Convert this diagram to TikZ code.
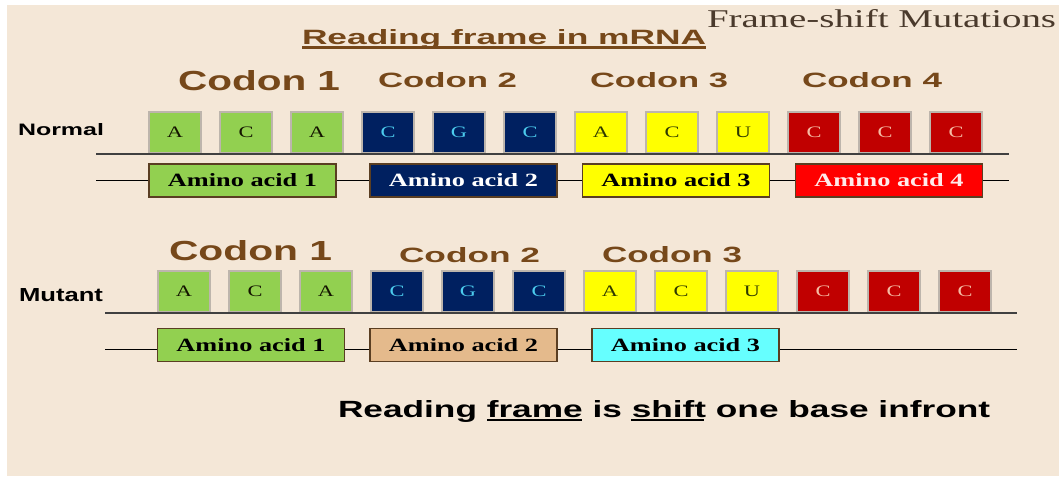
\documentclass[tikz,border=0pt]{standalone}
\usepackage{fontspec}
\setmainfont{Liberation Serif}
\newfontfamily\arialf{Liberation Sans}
\usepackage{graphicx}
\definecolor{bg}{HTML}{F4E7D7}
\definecolor{brn}{HTML}{76481A}
\definecolor{ttl}{HTML}{4A3A2C}
\definecolor{boxgray}{HTML}{BDB5AC}
\definecolor{aabrown}{HTML}{5A3E22}
\definecolor{f0}{HTML}{92D050}
\definecolor{f1}{HTML}{002060}
\definecolor{f2}{HTML}{FFFF00}
\definecolor{f3}{HTML}{C00000}
\definecolor{t0}{HTML}{141400}
\definecolor{t1}{HTML}{4CCCEE}
\definecolor{t2}{HTML}{2E3800}
\definecolor{t3}{HTML}{F6BCA4}
\definecolor{tan}{HTML}{E4BA8C}
\definecolor{cyn}{HTML}{66FFFF}
\definecolor{rd}{HTML}{FF0000}
\newcommand\fitb[3]{\resizebox{#1pt}{#2pt}{#3}}
\newcommand\bl[1]{\scalebox{1.4}[1]{\fontsize{16}{16}\selectfont #1}}
\newcommand\aat[1]{\fitb{149}{13}{\bfseries #1}}
\begin{document}
\begin{tikzpicture}[x=1pt,y=-1pt,
  txt/.style={inner sep=0pt, outer sep=0pt, anchor=base west},
  basebox/.style={draw=boxgray, line width=1.2pt, minimum width=52pt, minimum height=41pt, inner sep=0pt},
  aabox/.style={draw=aabrown, line width=1.5pt, minimum width=187pt, minimum height=33pt, inner sep=0pt},
  mline/.style={draw=black!75, line width=1.5pt},
  pline/.style={draw=black, line width=1pt},
  uline/.style={line width=2.5pt}]
\useasboundingbox (0,0) rectangle (1059,477);
\fill[bg] (7,5) rectangle (1059,476);

% titles
\node[txt, text=ttl] (fsm) at (707,27) {\fitb{349}{18}{Frame-shift Mutations}};
\node[txt, text=brn] (rfm) at (302,44) {\fitb{404}{15}{\arialf\bfseries Reading frame in mRNA}};
\draw[uline, brn] (rfm.base west) ++(0,3.7) -- ++(404,0);

% row labels
\node[txt] (normal) at (18,135) {\fitb{86}{12}{\arialf\bfseries Normal}};
\node[txt] (mutant) at (19,301) {\fitb{84}{13}{\arialf\bfseries Mutant}};

% codon labels row 1
\node[txt, text=brn] (c11) at (178,90) {\fitb{162}{20}{\arialf\bfseries Codon 1}};
\node[txt, text=brn] (c12) at (378,87) {\fitb{139}{15}{\arialf\bfseries Codon 2}};
\node[txt, text=brn] (c13) at (590,87) {\fitb{138}{15}{\arialf\bfseries Codon 3}};
\node[txt, text=brn] (c14) at (802,87) {\fitb{140}{15}{\arialf\bfseries Codon 4}};
% codon labels row 2
\node[txt, text=brn] (c21) at (169,260) {\fitb{163}{20}{\arialf\bfseries Codon 1}};
\node[txt, text=brn] (c22) at (399,262) {\fitb{141}{15}{\arialf\bfseries Codon 2}};
\node[txt, text=brn] (c23) at (602,262) {\fitb{140}{16}{\arialf\bfseries Codon 3}};

% bases row 1
\foreach \l [count=\i from 0] in {A,C,A,C,G,C,A,C,U,C,C,C} {
  \pgfmathtruncatemacro\g{int(\i/3)}
  \node[basebox, fill=f\g, text=t\g] (n\i) at ({175+71*\i},132.5) {\bl{\l}};
}
% bases row 2
\foreach \l [count=\i from 0] in {A,C,A,C,G,C,A,C,U,C,C,C} {
  \pgfmathtruncatemacro\g{int(\i/3)}
  \node[basebox, fill=f\g, text=t\g] (m\i) at ({184+71*\i},291.5) {\bl{\l}};
}

% mRNA lines
\coordinate (m1s) at (96,154);  \coordinate (m1e) at (1009,154);
\coordinate (m2s) at (105,313); \coordinate (m2e) at (1017,313);
\draw[mline] (m1s) -- (m1e);
\draw[mline] (m2s) -- (m2e);

% amino acids row 1
\node[aabox, fill=f0, text=black] (a11) at (242.5,180.5) {\aat{Amino acid 1}};
\node[aabox, fill=f1, text=white] (a12) at (463.5,180.5) {\aat{Amino acid 2}};
\node[aabox, fill=f2, text=black] (a13) at (676,180.5) {\aat{Amino acid 3}};
\node[aabox, fill=rd, text=red!8] (a14) at (889,180.5) {\aat{Amino acid 4}};
\coordinate (p1s) at (96,180.5); \coordinate (p1e) at (1009,180.5);
\draw[pline] (p1s) -- (a11.west);
\draw[pline] (a11.east) -- (a12.west);
\draw[pline] (a12.east) -- (a13.west);
\draw[pline] (a13.east) -- (a14.west);
\draw[pline] (a14.east) -- (p1e);

% amino acids row 2
\node[aabox, fill=f0, text=black] (a21) at (251,345) {\aat{Amino acid 1}};
\node[aabox, fill=tan, text=black] (a22) at (463.5,345) {\aat{Amino acid 2}};
\node[aabox, fill=cyn, text=black] (a23) at (685.5,345) {\aat{Amino acid 3}};
\coordinate (p2s) at (105,349); \coordinate (p2e) at (1017,349);
\draw[pline] (p2s) -- (p2s -| a21.west);
\draw[pline] (a21.east |- p2s) -- (a22.west |- p2s);
\draw[pline] (a22.east |- p2s) -- (a23.west |- p2s);
\draw[pline] (a23.east |- p2s) -- (p2e);

% bottom statement
\node[txt] (stmt) at (338,417) {\fitb{652}{17}{\arialf\bfseries Reading frame is shift one base infront}};
\coordinate (fr1) at (487,420); \coordinate (fr2) at (582,420);
\coordinate (sh1) at (631,420); \coordinate (sh2) at (704,420);
\draw[line width=2pt] (fr1) -- (fr2);
\draw[line width=2pt] (sh1) -- (sh2);
\end{tikzpicture}
\end{document}
